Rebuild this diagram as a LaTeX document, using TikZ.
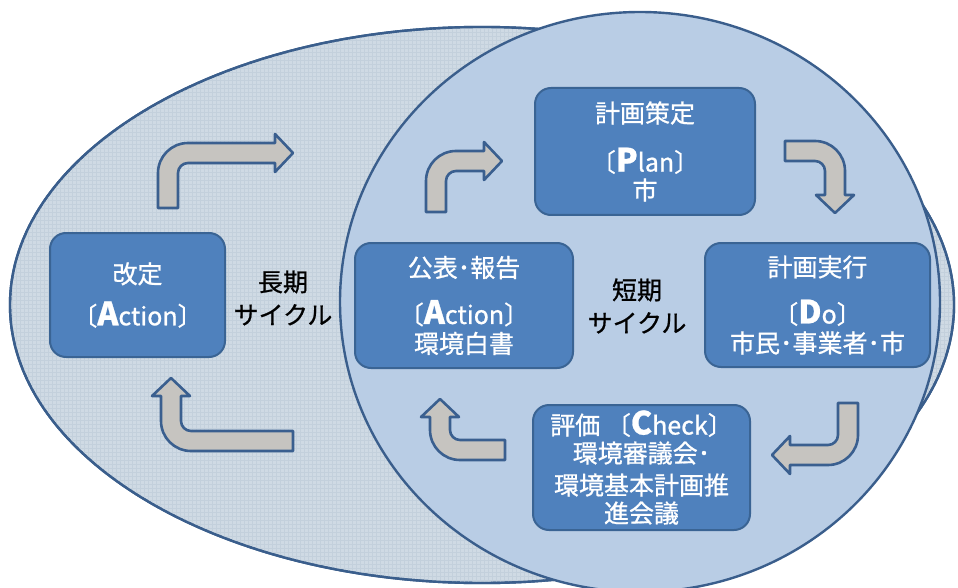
\documentclass[tikz,border=0pt]{standalone}
\usepackage{fontspec}
\setmainfont{Noto Sans CJK JP}[FakeBold=0.8]
\definecolor{outl}{HTML}{3A5E8C}
\definecolor{bigfill}{HTML}{CFDAE4}
\definecolor{gridc}{HTML}{C3D0DC}
\definecolor{circfill}{HTML}{B9CDE5}
\definecolor{boxfill}{HTML}{4F81BD}
\definecolor{boxline}{HTML}{3A6494}
\definecolor{arrfill}{HTML}{C6C4C0}
\definecolor{arrline}{HTML}{3A5F8F}
\newcommand\bigL[1]{{\fontsize{32pt}{32pt}\selectfont\bfseries #1}}
\newcommand\bentarr[2]{%
  \draw[arrsty] (-10,0) -- (-10,#1-20) arc[start angle=180,end angle=90,radius=30]
    -- (#2,#1+10) -- (#2,#1+19) -- (#2+18,#1) -- (#2,#1-19) -- (#2,#1-10)
    -- (20,#1-10) arc[start angle=90,end angle=180,radius=10] -- (10,0) -- cycle;}
\tikzset{
  stagebox/.style={draw=boxline, line width=2pt, fill=boxfill, rounded corners=16pt,
    text=white, align=center, font=\fontsize{25pt}{29pt}\selectfont, inner sep=0pt},
  cyclelabel/.style={text=black, align=center, font=\fontsize{25pt}{33pt}\selectfont},
  arrsty/.style={draw=arrline, fill=arrfill, line width=2.6pt, line join=round},
  ringline/.style={draw=outl, line width=2.4pt}
}
\begin{document}
\begin{tikzpicture}[x=1pt,y=1pt]
\useasboundingbox (0,0) rectangle (958,-588);
% long cycle ellipse
\path[ringline, fill=bigfill] (482,-305) ellipse[x radius=472, y radius=278];
\begin{scope}
  \clip (482,-305) ellipse[x radius=471, y radius=277];
  \draw[gridc, line width=0.25pt, step=4] (0,-600) grid (960,0);
\end{scope}
\draw[outl, line width=2.4pt] (482,-305) ellipse[x radius=472, y radius=278];
% short cycle circle
\path[ringline, fill=circfill] (640,-302) ellipse[x radius=300, y radius=290];

% boxes
\node[stagebox, minimum width=175pt, minimum height=124pt] (kaitei) at (137.5,-295)
  {改定\\[13pt]〔\bigL{A}ction〕};
\node[stagebox, minimum width=218pt, minimum height=125pt] (kohyo) at (464,-305.5)
  {公表･報告\\[18pt]〔\bigL{A}ction〕\\[0pt]環境白書};
\node[stagebox, minimum width=220pt, minimum height=127pt] (plan) at (645,-151.5)
  {計画策定\\[20pt]〔\bigL{P}lan〕\\[-1pt]市};
\node[stagebox, minimum width=225pt, minimum height=124pt] (do) at (817.5,-305)
  {計画実行\\[18pt]〔\bigL{D}o〕\\[0pt]市民･事業者･市};
\node[stagebox, minimum width=217pt, minimum height=125pt] (check) at (641.5,-467.5)
  {評価\ 〔\bigL{C}heck〕\\[-1pt]環境審議会･\\[3pt]環境基本計画推\\[-1pt]進会議};

% labels
\node[cyclelabel] (long) at (283,-298) {長期\\サイクル};
\node[cyclelabel] (short) at (637,-306) {短期\\サイクル};

% bent arrows
\begin{scope}[shift={(168,-208)}] \bentarr{55}{107} \end{scope}
\begin{scope}[shift={(293,-441)}, rotate=90] \bentarr{122}{45} \end{scope}
\begin{scope}[shift={(436,-212)}] \bentarr{51}{48} \end{scope}
\begin{scope}[shift={(785,-151)}, rotate=-90] \bentarr{50}{44} \end{scope}
\begin{scope}[shift={(848,-403)}, rotate=180] \bentarr{52}{58} \end{scope}
\begin{scope}[shift={(505,-450)}, rotate=90] \bentarr{65}{33} \end{scope}
\end{tikzpicture}
\end{document}
